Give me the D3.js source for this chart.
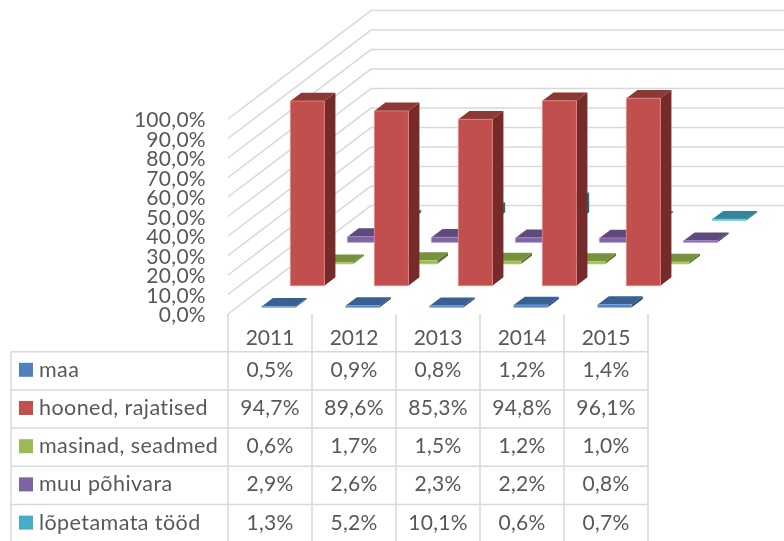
<!DOCTYPE html>
<html>
<head>
<meta charset="utf-8">
<script src="https://d3js.org/d3.v7.min.js"></script>
<style>
  html, body { margin: 0; padding: 0; background: #fff; overflow: hidden; }
  text { font-family: Lato, "Open Sans", sans-serif; fill: #595959; }
</style>
</head>
<body>
<div id="chart"></div>
<script>
const years = ["2011", "2012", "2013", "2014", "2015"];
const seriesNames = ["maa", "hooned, rajatised", "masinad, seadmed", "muu põhivara", "lõpetamata tööd"];

const maa = [0.5, 0.9, 0.8, 1.2, 1.4];
const hooned = [94.7, 89.6, 85.3, 94.8, 96.1];
const masinad = [0.6, 1.7, 1.5, 1.2, 1.0];
const muu = [2.9, 2.6, 2.3, 2.2, 0.8];
const lopetamata = [1.3, 5.2, 10.1, 0.6, 0.7];
const seriesValues = [maa, hooned, masinad, muu, lopetamata];

const axisTicks = [0, 10, 20, 30, 40, 50, 60, 70, 80, 90, 100];

const frontColors = ["#4F81BD", "#C0504D", "#9BBB59", "#8064A2", "#4BACC6"];
const topColors = ["#376092", "#8C3836", "#76923C", "#604A7B", "#31859C"];
const sideColors = ["#2C4D75", "#772C2A", "#5F7530", "#4D3B62", "#276A7C"];
const edgeColors = ["#7FA8DC", "#E08A88", "#BCD888", "#A88CC8", "#80D0E4"];

const width = 784, height = 541;
const gridColor = "#D9D9D9";

const svg = d3.select("#chart").append("svg")
  .attr("width", width)
  .attr("height", height)
  .style("display", "block");

// the source is a slightly soft screenshot
svg.append("defs").append("filter")
  .attr("id", "soft")
  .attr("x", 0).attr("y", 0).attr("width", 1).attr("height", 1)
  .attr("filterUnits", "objectBoundingBox")
  .append("feGaussianBlur")
  .attr("stdDeviation", 0.45);

const root = svg.append("g").attr("filter", "url(#soft)");
root.append("rect").attr("width", width).attr("height", height).attr("fill", "#fff");

// oblique projection: depth 0..1 goes up and to the right
const depthX = 143, depthY = 108.4;

const x = d3.scaleBand().domain(years).range([228, 648])
  .paddingInner(0.595).paddingOuter(0.2975);
const depth = d3.scaleBand().domain(seriesNames).range([0, 1])
  .paddingInner(0.615).paddingOuter(0.3075);
const y = d3.scaleLinear().domain([0, 100]).range([314, 119]);

const project = (px, d, v) => [px + d * depthX, y(v) - d * depthY];
const poly = (pts) => pts.map((p) => p.join(",")).join(" ");

// walls
const grid = root.append("g")
  .attr("fill", "none")
  .attr("stroke", gridColor)
  .attr("stroke-width", 1.5);

grid.selectAll("polyline")
  .data(axisTicks)
  .enter()
  .append("polyline")
  .attr("points", (t) => {
    const a = project(x.range()[0], 0, t);
    const b = project(x.range()[0], 1, t);
    return poly([a, b, [width, b[1]]]);
  });

// value axis
const pctLocale = d3.formatLocale({ decimal: ",", thousands: " ", grouping: [3], currency: ["", ""] });
const fmt = pctLocale.format(".1f");

const numberSize = "21px";
const numberSpacing = "0.3px";

const yAxis = d3.axisLeft(y)
  .tickValues(axisTicks)
  .tickSize(0)
  .tickPadding(0)
  .tickFormat((d) => fmt(d) + "%");

root.append("g")
  .attr("transform", "translate(206,0.8)")
  .call(yAxis)
  .call((g) => g.select(".domain").remove())
  .selectAll("text")
  .style("font-family", "Lato")
  .style("font-size", numberSize)
  .style("letter-spacing", numberSpacing)
  .attr("fill", "#595959");

// bars, back series first so nearer ones cover them
const bars = root.append("g");
d3.range(seriesNames.length - 1, -1, -1).forEach((s) => {
  const name = seriesNames[s];
  const d0 = depth(name);
  const d1 = d0 + depth.bandwidth();

  years.forEach((year, i) => {
    const v = seriesValues[s][i];
    const x0 = x(year);
    const x1 = x0 + x.bandwidth();
    const box = bars.append("g");

    box.append("polygon")
      .attr("fill", sideColors[s])
      .attr("points", poly([project(x1, d0, 0), project(x1, d1, 0), project(x1, d1, v), project(x1, d0, v)]));
    box.append("polygon")
      .attr("fill", topColors[s])
      .attr("points", poly([project(x0, d0, v), project(x1, d0, v), project(x1, d1, v), project(x0, d1, v)]));
    box.append("polygon")
      .attr("fill", frontColors[s])
      .attr("stroke", edgeColors[s])
      .attr("stroke-width", 0.8)
      .attr("points", poly([project(x0, d0, 0), project(x1, d0, 0), project(x1, d0, v), project(x0, d0, v)]));
  });
});

// data table
const tableLeft = 11, tableTop = 351.7, rowH = 38.2;
const columns = x.range();
const colW = x.step();

const table = root.append("g");

const rowY = (r) => tableTop + r * rowH;

table.selectAll("line.h")
  .data(d3.range(seriesNames.length))
  .enter()
  .append("line")
  .attr("class", "h")
  .attr("x1", tableLeft)
  .attr("x2", columns[1])
  .attr("y1", rowY)
  .attr("y2", rowY);

table.selectAll("line.v")
  .data(d3.range(years.length + 1))
  .enter()
  .append("line")
  .attr("class", "v")
  .attr("x1", (c) => columns[0] + c * colW)
  .attr("x2", (c) => columns[0] + c * colW)
  .attr("y1", y(0))
  .attr("y2", height);

table.append("line")
  .attr("x1", tableLeft)
  .attr("x2", tableLeft)
  .attr("y1", tableTop)
  .attr("y2", height);

table.selectAll("line")
  .attr("stroke", gridColor)
  .attr("stroke-width", 1.5);

years.forEach((year) => {
  table.append("text")
    .attr("x", x(year) + x.bandwidth() / 2)
    .attr("y", 345)
    .attr("text-anchor", "middle")
    .style("font-size", numberSize)
    .text(year);
});

seriesNames.forEach((name, s) => {
  const mid = rowY(s) + rowH / 2 - 1;
  table.append("rect")
    .attr("x", 19)
    .attr("y", mid - 7)
    .attr("width", 14)
    .attr("height", 14)
    .attr("fill", frontColors[s]);
  table.append("text")
    .attr("x", 39)
    .attr("y", mid + 7)
    .style("font-size", "21.5px")
    .style("letter-spacing", "0.43px")
    .text(name);

  years.forEach((year, i) => {
    table.append("text")
      .attr("x", x(year) + x.bandwidth() / 2)
      .attr("y", mid + 7)
      .attr("text-anchor", "middle")
      .style("font-size", numberSize)
      .style("letter-spacing", numberSpacing)
      .text(fmt(seriesValues[s][i]) + "%");
  });
});
</script>
</body>
</html>
